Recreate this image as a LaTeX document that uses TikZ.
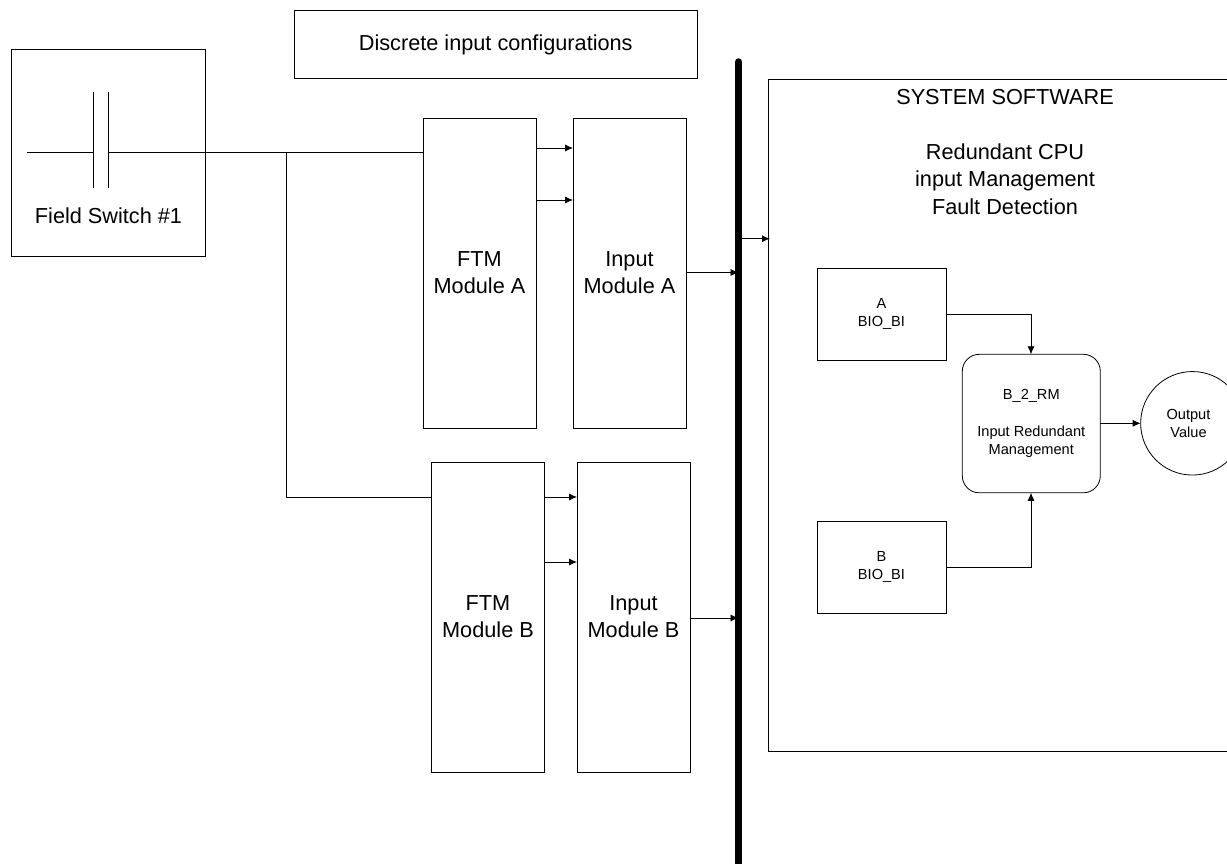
\documentclass[tikz,border=0pt]{standalone}
\usepackage{fontspec}
\setmainfont{Liberation Sans}
\usetikzlibrary{arrows.meta}
\tikzset{
  px/.style={x=1pt,y=-1pt},
  box/.style={draw=black,line width=0.8pt,inner sep=0pt,outer sep=0pt,align=center,anchor=north west},
  wire/.style={draw=black,line width=0.8pt},
  arr/.style={wire,-{Latex[length=8pt,width=7pt]}},
  big/.style={font=\fontsize{21.7}{27}\selectfont},
  small/.style={font=\fontsize{14.6}{18}\selectfont},
}
\newcommand{\bx}[7]{\node[box,#7,minimum width=#4pt,minimum height=#5pt] (#1) at (#2,#3) {#6};}
\begin{document}
\begin{tikzpicture}[px]
\useasboundingbox (0,0) rectangle (1227,864);
\bx{title}{294}{10.5}{403.5}{68}{\raisebox{-1pt}{Discrete input configurations}}{big}
\bx{field}{11}{49}{194}{207}{}{big}
\node[big,anchor=center] (fieldlabel) at (108.5,216) {Field Switch \#1};
\bx{ftma}{423}{118}{113}{310}{FTM\\Module A}{big}
\bx{inpa}{573}{118}{113}{310}{Input\\Module A}{big}
\bx{ftmb}{431.5}{462}{113}{310}{FTM\\Module B}{big}
\bx{inpb}{577}{462}{113}{310}{Input\\Module B}{big}
\coordinate (ssne) at (1227,79);
\coordinate (ssnw) at (768.5,79);
\coordinate (sssw) at (768.5,751);
\coordinate (ssse) at (1227,751);
\draw[wire] (ssne) -- (ssnw) -- (sssw) -- (ssse);
\node[big,anchor=center] (sstitle) at (1005,97) {SYSTEM SOFTWARE};
\node[big,anchor=center,align=center,font=\fontsize{21.7}{27.5}\selectfont] (sstext) at (1005,179) {Redundant CPU\\input Management\\Fault Detection};
\bx{bioa}{817}{268.5}{129}{91.5}{A\\BIO\_BI}{small}
\bx{biob}{817}{521}{129}{92}{B\\BIO\_BI}{small}
\node[box,small,rounded corners=17pt,minimum width=138pt,minimum height=138.5pt] (rm) at (962.3,354.3) {B\_2\_RM\\[18.5pt]Input Redundant\\Management};
\node[draw=black,line width=0.8pt,circle,outer sep=0pt,minimum size=103.5pt,inner sep=0pt] (out) at (1192.4,423.3) {};
\node[small,align=center,anchor=center] (outlabel) at (1188.5,423.3) {Output\\Value};
\coordinate (pl1a) at (93,92); \coordinate (pl1b) at (93,188);
\coordinate (pl2a) at (108,92); \coordinate (pl2b) at (108,188);
\coordinate (cl) at (27,152.5);
\coordinate (cl1) at (93,152.5);
\coordinate (cl2) at (108,152.5);
\coordinate (j) at (286,152.5);
\draw[wire] (pl1a) -- (pl1b);
\draw[wire] (pl2a) -- (pl2b);
\draw[wire] (cl) -- (cl1);
\draw[wire] (cl2) -- (ftma.west |- cl2);
\draw[wire] (j) |- (ftmb.west |- 0,497);
\draw[arr] (ftma.east |- 0,148) -- (inpa.west |- 0,148);
\draw[arr] (ftma.east |- 0,200) -- (inpa.west |- 0,200);
\draw[arr] (ftmb.east |- 0,497) -- (inpb.west |- 0,497);
\draw[arr] (ftmb.east |- 0,562) -- (inpb.west |- 0,562);
\coordinate (bust) at (738.5,62);
\coordinate (busb) at (738.5,870);
\draw[black,line width=7.5pt,line cap=round] (bust) -- (busb);
\draw[arr] (inpa.east |- 0,272.5) -- (bust |- 0,272.5);
\draw[arr] (inpb.east |- 0,618) -- (bust |- 0,618);
\draw[arr] (bust |- 0,238.7) -- (770,238.7);
\draw[arr] (bioa.east |- 0,314) -- (1031,314) -- (1031,354.3);
\draw[arr] (biob.east |- 0,567) -- (1031,567) -- (1031,492.8);
\draw[arr] (rm.east |- out.west) -- (out.west);
\end{tikzpicture}
\end{document}
